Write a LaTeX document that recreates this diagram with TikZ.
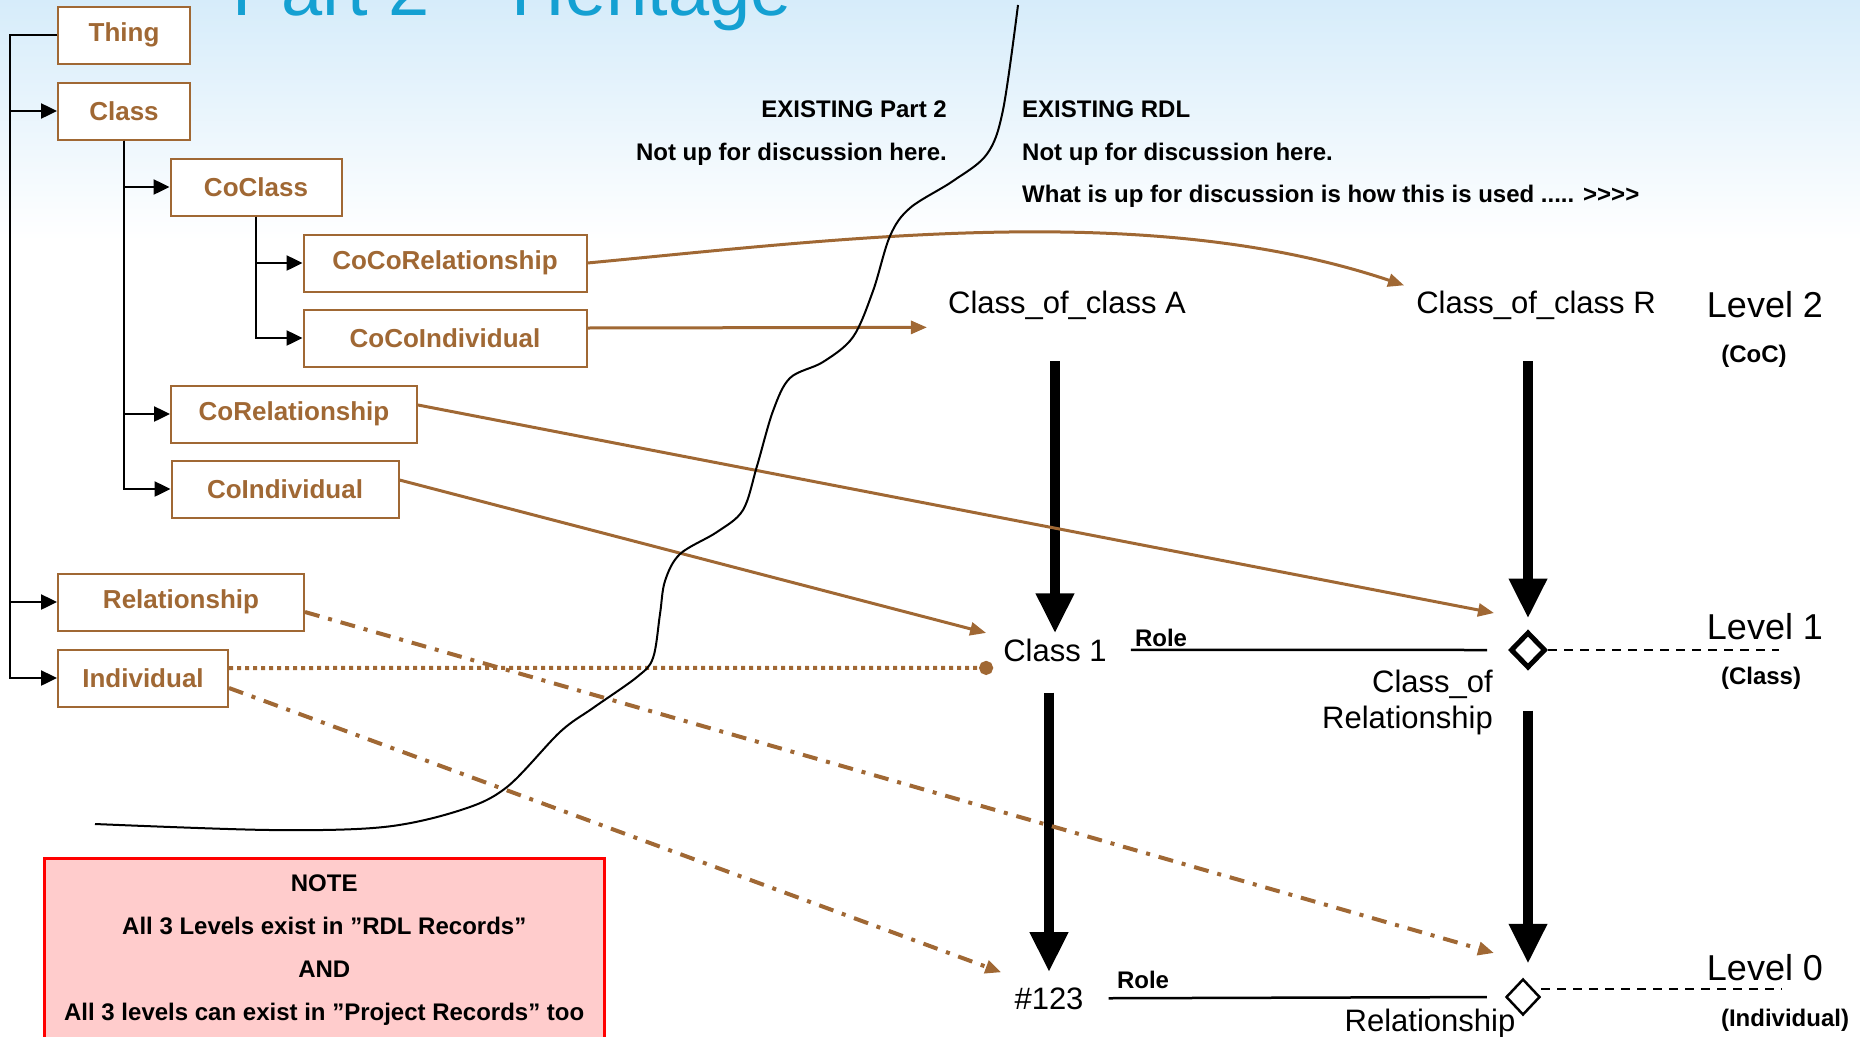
\documentclass[tikz,border=0pt]{standalone}
\usepackage{fontspec}
\setmainfont{Liberation Sans}
\usetikzlibrary{arrows.meta,shapes.geometric}
\definecolor{herbrown}{RGB}{160,104,52}
\definecolor{notepink}{RGB}{255,204,204}
\definecolor{titlecyan}{RGB}{20,160,210}
\definecolor{skyblue}{RGB}{214,236,250}

\begin{document}
\begin{tikzpicture}[x=1pt, y=-1pt,
    box/.style={rectangle, draw=herbrown, line width=2pt, fill=white, text=herbrown, minimum height=57pt, inner xsep=8pt, font=\fontsize{26pt}{30pt}\selectfont\bfseries},
    txt/.style={inner sep=0pt, font=\fontsize{31pt}{36pt}\selectfont},
    remark/.style={inner sep=0pt, font=\fontsize{24pt}{36pt}\selectfont\bfseries},
    lvl/.style={inner sep=0pt, font=\fontsize{36pt}{40pt}\selectfont},
    notebox/.style={rectangle, draw=red, line width=2.5pt, fill=notepink, align=center, inner ysep=16pt, text depth=80pt, font=\fontsize{24pt}{43pt}\selectfont\bfseries},
    tree/.style={-{Triangle[length=16pt,width=15pt]}, line width=2.5pt},
    bigarrow/.style={-{Triangle[length=40pt,width=36pt]}, line width=10pt},
    brownarrow/.style={-{Triangle[length=16pt,width=13pt]}, draw=herbrown, line width=3pt},
    dashdot/.style={-{Triangle[length=16pt,width=13pt]}, draw=herbrown, line width=4pt, dash pattern=on 15pt off 9pt on 4pt off 9pt},
    dotline/.style={-{Circle[length=14pt]}, draw=herbrown, line width=4pt, dash pattern=on 4pt off 4pt},
    roleline/.style={line width=2.5pt},
    lvldash/.style={line width=2.5pt, dash pattern=on 9pt off 7pt}
]
    \useasboundingbox (0,0) rectangle (1860,1036);
    \clip (0,0) rectangle (1860,1036);
    \shade[top color=skyblue, bottom color=white] (0,0) rectangle (1860,240);

    % title, cut off at the top
    \node[anchor=base west, inner sep=0pt, text=titlecyan, font=\fontsize{74pt}{80pt}\selectfont] (title) at (232,15) {Part 2 – Heritage};

    % the heritage tree
    \node[box, minimum width=132pt] (thing) at (124,35) {Thing};
    \node[box, minimum width=132pt] (cls) at (124,111) {Class};
    \node[box, minimum width=171pt] (coclass) at (256,187) {CoClass};
    \node[box, minimum width=283pt] (cocorel) at (445,263) {CoCoRelationship};
    \node[box, minimum width=283pt] (cocoind) at (445,338) {CoCoIndividual};
    \node[box, minimum width=246pt] (corel) at (294,414) {CoRelationship};
    \node[box, minimum width=227pt] (coind) at (285,489) {CoIndividual};
    \node[box, minimum width=246pt] (rel) at (181,602) {Relationship};
    \node[box, minimum width=170pt] (ind) at (143,678) {Individual};

    \draw[tree] (thing.west) -- ++(-47pt,0) |- (cls.west);
    \draw[tree] (thing.west) -- ++(-47pt,0) |- (rel.west);
    \draw[tree] (thing.west) -- ++(-47pt,0) |- (ind.west);
    \draw[tree] (cls.south) |- (coclass.west);
    \draw[tree] (cls.south) |- (corel.west);
    \draw[tree] (cls.south) |- (coind.west);
    \draw[tree] (coclass.south) |- (cocorel.west);
    \draw[tree] (coclass.south) |- (cocoind.west);

    % headings
    \node[remark, anchor=base east] (extwo) at (947,117) {EXISTING Part 2};
    \node[remark, anchor=base east] (nottwo) at (947,160) {Not up for discussion here.};
    \node[remark, anchor=base west] (exrdl) at (1022,117) {EXISTING RDL};
    \node[remark, anchor=base west] (notrdl) at (1022,160) {Not up for discussion here.};
    \node[remark, anchor=base west] (whatrdl) at (1022,202) {What is up for discussion is how this is used ..... >\kern0pt>\kern0pt>\kern0pt>};

    % the RDL levels
    \node[txt, anchor=base] (clsA) at (1067,313) {Class\_of\_class A};
    \node[txt, anchor=base] (clsR) at (1536,313) {Class\_of\_class R};
    \node[txt, anchor=base] (class1) at (1055,661) {Class 1};
    \node[draw, diamond, line width=5pt, minimum width=35pt, minimum height=36pt, inner sep=0pt] (cor) at (1528,650) {};
    \node[txt, anchor=base] (num) at (1049,1009) {\#123};
    \node[draw, diamond, line width=2.5pt, minimum width=34pt, minimum height=36pt, inner sep=0pt] (relship) at (1523,997) {};

    \node[remark, anchor=base] (roleone) at (1161,646) {Role};
    \node[remark, anchor=base] (rolezero) at (1143,988) {Role};
    \node[txt, anchor=north east, align=right] (corlabel) at (1493,670) {Class\_of\\Relationship};
    \node[txt, anchor=base] (rellabel) at (1430,1031) {Relationship};

    \node[lvl, anchor=base] (lvtwo) at (1765,317) {Level 2};
    \node[remark, anchor=base] (lvtwosub) at (1754,362) {(CoC)};
    \node[lvl, anchor=base] (lvone) at (1765,639) {Level 1};
    \node[remark, anchor=base] (lvonesub) at (1761,684) {(Class)};
    \node[lvl, anchor=base] (lvzero) at (1765,980) {Level 0};
    \node[remark, anchor=base] (lvzerosub) at (1785,1026) {(Individual)};
    \coordinate (endone) at (1779,650);
    \coordinate (endzero) at (1782,989);

    \draw[bigarrow, shorten <=42pt, shorten >=5pt] (clsA.south -| class1.north) -- (class1.north);
    \draw[bigarrow, shorten <=31pt, shorten >=15pt] (num.north |- class1.south) -- (num.north);
    \draw[bigarrow, shorten <=42pt, shorten >=11pt] (clsR.south -| cor.north) -- (cor.north);
    \draw[bigarrow, shorten <=40pt, shorten >=14pt] (cor.south) -- (cor.south |- relship.north);

    \draw[roleline, shorten <=24pt, shorten >=21pt] (class1.east) -- (cor.west);
    \draw[roleline, shorten <=25pt, shorten >=18pt] (num.east) -- (relship.west);
    \draw[lvldash] (cor.east) -- (endone);
    \draw[lvldash] ([yshift=8pt]relship.east) -- (endzero);

    % links from Part 2 into the RDL
    \draw[brownarrow] (cocorel.east) .. controls (850,238) and (1150,200) .. ([xshift=-12pt,yshift=5pt]clsR.north west);
    \draw[brownarrow] ([yshift=10pt]cocoind.east) -- ([xshift=-21pt,yshift=-8pt]clsA.south west);
    \draw[brownarrow] ([yshift=9pt]corel.east) -- ([xshift=-34pt,yshift=37pt]cor.center);
    \draw[brownarrow] ([yshift=9pt]coind.east) -- ([xshift=-17pt,yshift=17pt]class1.west);
    \draw[dotline] ([yshift=10pt]ind.east) -- ([xshift=-10pt,yshift=-18pt]class1.west);
    \draw[dashdot] ([yshift=-10pt]rel.east) -- ([xshift=-29pt,yshift=44pt]relship.center);
    \draw[dashdot] ([yshift=-10pt]ind.east) -- ([xshift=-13pt,yshift=26pt]num.west);

    % hand drawn border between the two parts
    \draw[line width=2pt] plot[smooth, tension=0.55] coordinates {(1018,5) (1003,110) (987,154) (953,181) (910,208) (890,236) (873,291) (853,337) (823,362) (790,378) (773,411) (757,466) (743,510) (717,532) (680,554) (665,581) (660,614) (653,658) (637,677) (593,708) (560,732) (507,787) (461,810) (384,827) (270,830) (95,824)};

    \node[notebox, anchor=north west, minimum width=560pt] (note) at (43,857) {NOTE\\All 3 Levels exist in ”RDL Records”\\AND\\All 3 levels can exist in ”Project Records” too};
\end{tikzpicture}
\end{document}
